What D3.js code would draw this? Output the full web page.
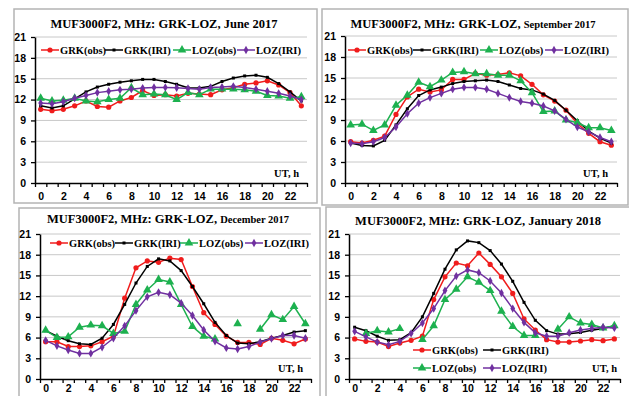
<!DOCTYPE html>
<html>
<head>
<meta charset="utf-8">
<script src="https://cdn.jsdelivr.net/npm/d3@7"></script>
<style>
  body { margin: 0; background: #fff; }
  svg { display: block; font-family: "Liberation Serif", "Times New Roman", serif; font-weight: bold; }
</style>
</head>
<body>
<div id="chart"></div>
<script>
// categories / ticks
const hours = [0, 1, 2, 3, 4, 5, 6, 7, 8, 9, 10, 11, 12, 13, 14, 15, 16, 17, 18, 19, 20, 21, 22, 23];
const xTickLabels = [0, 2, 4, 6, 8, 10, 12, 14, 16, 18, 20, 22];
const yTicks = [0, 3, 6, 9, 12, 15, 18, 21];
const seriesNames = ["GRK(obs)", "GRK(IRI)", "LOZ(obs)", "LOZ(IRI)"];

// June 2017
const juneGrkObs = [10.6, 10.4, 10.6, 11.1, 11.8, 11.0, 10.9, 11.8, 12.3, 13.3, 12.6, 12.7, 12.5, 12.9, 12.8, 12.7, 13.4, 13.7, 14.2, 14.4, 14.7, 14.1, 13.0, 11.1];
const juneGrkIri = [11.1, 10.8, 11.1, 12.1, 13.1, 13.8, 14.2, 14.5, 14.7, 14.9, 14.9, 14.6, 14.2, 13.7, 13.65, 13.9, 14.6, 15.1, 15.4, 15.5, 15.2, 14.3, 13.1, 11.8];
const juneLozObs = [12.2, 11.8, 11.9, 12.2, 11.8, 11.7, 12.0, 12.2, 13.7, 12.7, 12.8, 12.7, 12.0, 13.0, 12.7, 13.5, 13.5, 13.5, 13.4, 13.2, 12.6, 12.5, 12.2, 12.4];
const juneLozIri = [11.5, 11.4, 11.7, 12.2, 12.6, 13.0, 13.2, 13.4, 13.5, 13.65, 13.75, 13.75, 13.7, 13.6, 13.5, 13.75, 13.8, 13.9, 13.75, 13.5, 13.2, 12.9, 12.5, 12.0];

// September 2017
const sepGrkObs = [5.9, 5.7, 6.1, 6.7, 9.8, 12.3, 13.4, 13.0, 13.3, 14.8, 14.8, 15.65, 15.4, 15.5, 15.75, 15.3, 14.1, 12.6, 11.7, 10.4, 8.5, 7.1, 5.9, 5.4];
const sepGrkIri = [5.7, 5.35, 5.3, 6.1, 8.3, 10.6, 12.5, 13.3, 13.7, 14.2, 14.5, 14.6, 14.7, 14.5, 14.0, 13.5, 13.3, 12.7, 11.8, 10.4, 8.9, 7.4, 6.4, 5.7];
const sepLozObs = [8.3, 8.4, 7.5, 8.3, 11.1, 12.55, 14.4, 13.75, 14.7, 15.8, 15.9, 15.6, 15.6, 15.4, 15.4, 14.6, 12.9, 10.2, 10.3, 9.0, 8.6, 7.9, 7.9, 7.5];
const sepLozIri = [5.7, 5.6, 5.9, 6.5, 8.0, 9.9, 11.4, 12.2, 12.8, 13.4, 13.65, 13.65, 13.4, 12.8, 12.2, 11.65, 11.4, 11.0, 10.3, 9.1, 8.0, 7.3, 6.5, 5.9];

// December 2017
const decGrkObs = [5.4, 5.4, 4.7, 4.7, 4.8, 5.4, 6.2, 11.7, 16.1, 17.1, 16.9, 17.5, 17.3, 13.4, 9.6, 7.9, 6.2, 5.3, 5.3, 5.0, 5.9, 5.6, 5.1, 5.8];
const decGrkIri = [7.0, 6.2, 5.55, 5.1, 5.0, 5.9, 7.9, 10.8, 13.9, 16.3, 17.4, 17.1, 15.7, 13.4, 10.9, 8.2, 6.3, 5.2, 5.1, 5.4, 5.9, 6.3, 6.8, 7.0];
const decLozObs = [7.05, 6.0, 6.1, 7.5, 7.8, 7.7, 6.6, 6.9, 10.8, 12.9, 14.4, 14.05, 10.8, 7.6, 6.2, 5.8, null, 8.0, null, 7.2, 9.3, 8.6, 10.5, 8.0];
const decLozIri = [5.6, 4.8, 4.2, 3.7, 3.7, 4.6, 5.9, 7.7, 9.9, 11.9, 12.55, 12.2, 11.0, 9.2, 7.1, 5.45, 4.5, 4.35, 4.7, 5.35, 5.85, 6.3, 6.3, 5.9];

// January 2018
const janGrkObs = [5.8, 5.45, 5.35, 4.7, 5.2, 5.6, 6.2, 11.5, 14.8, 16.8, 16.4, 18.25, 16.6, 14.8, 12.4, 8.7, 7.1, 5.7, 5.35, 5.35, 5.5, 5.7, 5.55, 5.8];
const janGrkIri = [7.5, 7.0, 6.2, 5.6, 5.7, 6.7, 9.0, 12.4, 15.9, 18.7, 20.0, 19.75, 18.6, 16.65, 14.15, 11.1, 8.5, 7.0, 6.5, 6.55, 6.75, 7.05, 7.3, 7.7];
const janLozObs = [null, 6.6, 7.0, 6.8, 7.3, null, 5.7, 7.7, 11.5, 13.0, 14.8, 14.0, 12.8, 9.8, 7.6, 6.3, 6.3, null, 7.2, 9.0, 8.1, 7.9, 7.4, 7.7];
const janLozIri = [6.9, 6.1, 5.35, 4.95, 5.45, 6.6, 8.1, 10.2, 12.8, 14.9, 15.8, 15.4, 14.2, 12.45, 10.2, 8.2, 6.7, 6.2, 6.2, 6.7, 7.1, 7.3, 7.5, 7.4];

const styles = [
  { color: "#f01c1c", symbol: "circle" },
  { color: "#000000", symbol: "square" },
  { color: "#1db14f", symbol: "triangle" },
  { color: "#7030a0", symbol: "diamond" }
];

const panels = [
  { title: "MUF3000F2, MHz: GRK-LOZ, ", month: "June 2017", small: false,
    series: [juneGrkObs, juneGrkIri, juneLozObs, juneLozIri],
    box: [14, 9, 303, 194], plot: [35, 37, 307, 183], titleX: 164, titleY: 28, pad: 10,
    legend: [[41, 50], [105, 50], [173, 50], [237, 50]], ut: [299, 177] },
  { title: "MUF3000F2, MHz: GRK-LOZ, ", month: "September 2017", small: true,
    series: [sepGrkObs, sepGrkIri, sepLozObs, sepLozIri],
    box: [322, 9, 306, 196], plot: [345, 36, 617, 183], titleX: 473, titleY: 28, pad: 10,
    legend: [[348, 50], [413, 50], [480, 50], [545, 50]], ut: [608, 177] },
  { title: "MUF3000F2, MHz: GRK-LOZ, ", month: "December 2017", small: true,
    series: [decGrkObs, decGrkIri, decLozObs, decLozIri],
    box: [19, 208, 301, 200], plot: [40, 234, 311, 379], titleX: 168, titleY: 223, pad: 6,
    legend: [[50, 243], [115, 243], [180, 243], [245, 243]], ut: [303, 372] },
  { title: "MUF3000F2, MHz: GRK-LOZ, ", month: "January 2018", small: false,
    series: [janGrkObs, janGrkIri, janLozObs, janLozIri],
    box: [326, 207, 310, 200], plot: [349, 234, 620, 379], titleX: 478, titleY: 225, pad: 6,
    legend: [[413, 350], [483, 350], [413, 368], [483, 368]], ut: [617, 372] }
];

const svg = d3.select("#chart").append("svg")
  .attr("width", 629)
  .attr("height", 396);

function marker(sel, s, x, y) {
  if (s.symbol === "circle") {
    sel.append("circle").attr("cx", x).attr("cy", y).attr("r", 2.6).attr("fill", s.color);
  } else {
    const type = { square: d3.symbolSquare, triangle: d3.symbolTriangle, diamond: d3.symbolDiamond }[s.symbol];
    const size = { square: 9, triangle: 32, diamond: 20 }[s.symbol];
    sel.append("path")
      .attr("d", d3.symbol().type(type).size(size)())
      .attr("transform", `translate(${x},${y})`)
      .attr("fill", s.color);
  }
}

function drawPanel(p) {
  const g = svg.append("g");
  const [bx, by, bw, bh] = p.box;
  const [x0, yTop, x1, yBot] = p.plot;

  g.append("rect")
    .attr("x", bx).attr("y", by).attr("width", bw).attr("height", bh)
    .attr("fill", "#fff").attr("stroke", "#b4b4b4").attr("stroke-width", 1.5);

  const x = d3.scaleLinear().domain([-0.5, 23.5]).range([x0, x1]);
  const y = d3.scaleLinear().domain([0, 21]).range([yBot, yTop]);

  // gridlines
  g.append("g").selectAll("line").data(yTicks.filter(t => t > 0)).join("line")
    .attr("x1", x0).attr("x2", x1)
    .attr("y1", d => y(d)).attr("y2", d => y(d))
    .attr("stroke", "#c8c8c8").attr("stroke-width", 1);

  // y axis
  const yAxis = g.append("g")
    .attr("transform", `translate(${x0},0)`)
    .call(d3.axisLeft(y).tickValues(yTicks).tickSize(4).tickSizeOuter(0).tickPadding(5));
  yAxis.select(".domain").attr("stroke-width", 1.5);
  yAxis.selectAll(".tick line").attr("stroke-width", 1.3);
  yAxis.selectAll("text").attr("font-size", 10.5).attr("font-family", null).attr("fill", "#000");

  // x axis: ticks at category boundaries, labels every 2 h
  const bounds = hours.map(h => h - 0.5).concat([23.5]);
  const xAxis = g.append("g")
    .attr("transform", `translate(0,${yBot})`)
    .call(d3.axisBottom(x).tickValues(bounds).tickSize(4).tickSizeOuter(0).tickFormat(""));
  xAxis.select(".domain").attr("stroke-width", 1.5);
  xAxis.selectAll(".tick line").attr("stroke-width", 1.3);
  const xLab = g.append("g")
    .attr("transform", `translate(0,${yBot})`)
    .call(d3.axisBottom(x).tickValues(xTickLabels).tickSize(0).tickPadding(p.pad));
  xLab.select(".domain").remove();
  xLab.selectAll("text").attr("font-size", 10.5).attr("font-family", null).attr("fill", "#000");

  // title
  const t = g.append("text")
    .attr("x", p.titleX).attr("y", p.titleY)
    .attr("text-anchor", "middle").attr("font-size", 12.5)
    .text(p.title);
  t.append("tspan").attr("font-size", p.small ? 10.5 : 12.5).text(p.month);

  // series
  const line = d3.line()
    .defined(d => d.v != null)
    .x(d => x(d.h))
    .y(d => y(d.v));

  p.series.forEach((vals, i) => {
    const s = styles[i];
    const pts = hours.map((h, k) => ({ h: h, v: vals[k] }));
    g.append("path").datum(pts)
      .attr("fill", "none").attr("stroke", s.color).attr("stroke-width", 1.5)
      .attr("d", line);
    const mg = g.append("g");
    pts.filter(d => d.v != null).forEach(d => marker(mg, s, x(d.h), y(d.v)));
  });

  // legend
  p.legend.forEach((pos, i) => {
    const s = styles[i];
    const lg = g.append("g");
    lg.append("line")
      .attr("x1", pos[0]).attr("x2", pos[0] + 18)
      .attr("y1", pos[1]).attr("y2", pos[1])
      .attr("stroke", s.color).attr("stroke-width", 1.5);
    marker(lg, s, pos[0] + 9, pos[1]);
    lg.append("text")
      .attr("x", pos[0] + 19).attr("y", pos[1] + 4)
      .attr("font-size", 10.5)
      .text(seriesNames[i]);
  });

  g.append("text")
    .attr("x", p.ut[0]).attr("y", p.ut[1])
    .attr("text-anchor", "end").attr("font-size", 10.5)
    .text("UT, h");
}

panels.forEach(drawPanel);
</script>
</body>
</html>
